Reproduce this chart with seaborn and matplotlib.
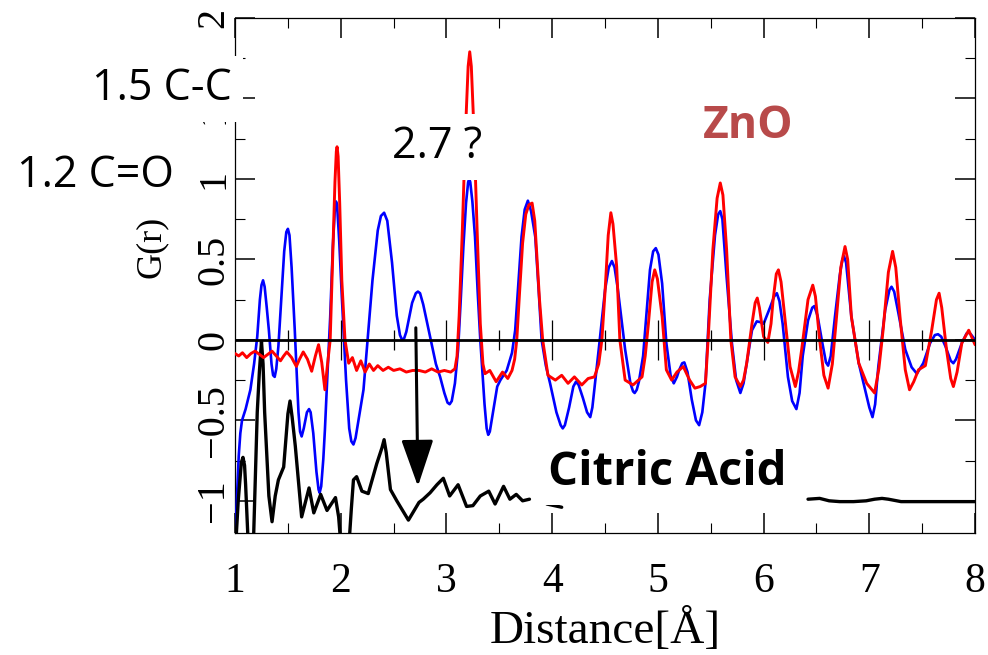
import numpy as np
import pandas as pd
import matplotlib
matplotlib.use("Agg")
import matplotlib.pyplot as plt
from matplotlib.ticker import MultipleLocator, FixedLocator, FixedFormatter
import seaborn as sns

# ---------------- data ----------------
blue_x = [1.00, 1.02, 1.035, 1.05, 1.066, 1.10, 1.145, 1.18, 1.21, 1.235, 1.25, 1.265, 1.28, 1.30,
          1.32, 1.345, 1.36, 1.375, 1.39, 1.41, 1.435, 1.465, 1.485, 1.50, 1.515, 1.535, 1.565, 1.60,
          1.615, 1.63, 1.65, 1.68, 1.70, 1.715, 1.74, 1.77, 1.79, 1.80, 1.815, 1.835, 1.85, 1.875,
          1.90, 1.925, 1.945, 1.955, 1.965, 1.985, 2.01, 2.05, 2.08, 2.10, 2.12, 2.14, 2.17, 2.215,
          2.26, 2.30, 2.35, 2.38, 2.41, 2.44, 2.485, 2.53, 2.56, 2.58, 2.60, 2.62, 2.675, 2.71,
          2.73, 2.75, 2.78, 2.845, 2.90, 2.94, 2.98, 3.01, 3.03, 3.05, 3.08, 3.11, 3.135, 3.16,
          3.185, 3.205, 3.215, 3.225, 3.245, 3.27, 3.295, 3.32, 3.36, 3.38, 3.395, 3.41, 3.44, 3.48,
          3.51, 3.57, 3.62, 3.65, 3.68, 3.71, 3.74, 3.77, 3.80, 3.84, 3.87, 3.90, 3.94, 3.98,
          4.04, 4.08, 4.10, 4.12, 4.16, 4.20, 4.225, 4.25, 4.29, 4.33, 4.36, 4.38, 4.40, 4.45,
          4.50, 4.535, 4.565, 4.59, 4.62, 4.64, 4.69, 4.74, 4.765, 4.78, 4.80, 4.82, 4.86, 4.89,
          4.925, 4.955, 4.98, 5.005, 5.04, 5.08, 5.12, 5.15, 5.18, 5.20, 5.23, 5.25, 5.28, 5.32,
          5.36, 5.39, 5.42, 5.45, 5.49, 5.54, 5.57, 5.59, 5.61, 5.65, 5.70, 5.74, 5.78, 5.81,
          5.84, 5.89, 5.935, 5.97, 6.00, 6.06, 6.10, 6.125, 6.15, 6.18, 6.23, 6.27, 6.31, 6.34,
          6.37, 6.42, 6.46, 6.48, 6.51, 6.55, 6.59, 6.61, 6.635, 6.675, 6.72, 6.745, 6.76, 6.78,
          6.83, 6.90, 6.96, 7.00, 7.03, 7.055, 7.085, 7.15, 7.19, 7.21, 7.235, 7.275, 7.34, 7.40,
          7.45, 7.51, 7.575, 7.62, 7.65, 7.68, 7.72, 7.77, 7.795, 7.82, 7.875, 7.92, 7.94, 7.96,
          8.00]
blue_y = [-1.25, -0.95, -0.72, -0.58, -0.50, -0.43, -0.31, -0.15, 0.02, 0.25, 0.34, 0.37, 0.33, 0.20,
          0.06, -0.15, -0.22, -0.23, -0.18, -0.04, 0.23, 0.55, 0.67, 0.69, 0.65, 0.45, 0.06, -0.45,
          -0.57, -0.60, -0.55, -0.45, -0.43, -0.45, -0.58, -0.82, -0.93, -0.95, -0.91, -0.74, -0.56, -0.20,
          0.14, 0.58, 0.82, 0.86, 0.84, 0.62, 0.27, -0.25, -0.55, -0.63, -0.65, -0.61, -0.49, -0.31,
          0.05, 0.37, 0.68, 0.77, 0.79, 0.74, 0.48, 0.15, 0.03, 0.00, 0.01, 0.05, 0.23, 0.29,
          0.30, 0.29, 0.22, 0.02, -0.15, -0.23, -0.33, -0.39, -0.40, -0.38, -0.27, -0.06, 0.25, 0.58,
          0.85, 0.98, 1.00, 0.98, 0.86, 0.64, 0.30, 0.00, -0.40, -0.55, -0.59, -0.57, -0.45, -0.29,
          -0.25, -0.19, -0.08, 0.06, 0.35, 0.64, 0.81, 0.865, 0.80, 0.64, 0.33, 0.00, -0.16, -0.27,
          -0.45, -0.53, -0.55, -0.53, -0.42, -0.29, -0.26, -0.28, -0.36, -0.45, -0.48, -0.42, -0.30, 0.00,
          0.31, 0.45, 0.49, 0.45, 0.32, 0.21, -0.06, -0.27, -0.32, -0.33, -0.31, -0.26, -0.10, 0.15,
          0.435, 0.55, 0.57, 0.53, 0.35, -0.02, -0.22, -0.27, -0.23, -0.19, -0.145, -0.14, -0.20, -0.37,
          -0.50, -0.53, -0.45, -0.27, 0.25, 0.65, 0.78, 0.80, 0.75, 0.39, -0.02, -0.25, -0.33, -0.27,
          -0.145, 0.06, 0.115, 0.11, 0.10, 0.20, 0.27, 0.29, 0.24, 0.10, -0.23, -0.38, -0.43, -0.33,
          -0.10, 0.12, 0.20, 0.21, 0.15, 0.00, -0.14, -0.16, -0.10, 0.145, 0.40, 0.50, 0.52, 0.48,
          0.145, -0.145, -0.31, -0.42, -0.48, -0.40, -0.166, 0.186, 0.31, 0.33, 0.30, 0.166, -0.06, -0.17,
          -0.21, -0.145, -0.02, 0.03, 0.035, 0.02, -0.04, -0.13, -0.145, -0.12, -0.02, 0.04, 0.045, 0.035,
          0.00]

red_x = [1.00, 1.035, 1.07, 1.11, 1.15, 1.19, 1.23, 1.27, 1.31, 1.35, 1.39, 1.43, 1.46, 1.49,
         1.535, 1.58, 1.61, 1.645, 1.685, 1.725, 1.76, 1.79, 1.82, 1.85, 1.875, 1.90, 1.925, 1.945,
         1.958, 1.965, 1.975, 1.99, 2.01, 2.04, 2.075, 2.11, 2.15, 2.19, 2.23, 2.27, 2.31, 2.35,
         2.40, 2.45, 2.50, 2.56, 2.62, 2.68, 2.74, 2.80, 2.86, 2.92, 2.98, 3.04, 3.08, 3.10,
         3.12, 3.15, 3.18, 3.205, 3.22, 3.235, 3.26, 3.29, 3.32, 3.345, 3.365, 3.41, 3.47, 3.53,
         3.58, 3.62, 3.645, 3.665, 3.69, 3.72, 3.75, 3.78, 3.81, 3.835, 3.855, 3.88, 3.91, 3.96,
         4.03, 4.09, 4.15, 4.21, 4.28, 4.34, 4.40, 4.44, 4.47, 4.50, 4.53, 4.555, 4.575, 4.61,
         4.64, 4.69, 4.765, 4.85, 4.88, 4.91, 4.945, 4.97, 4.995, 5.04, 5.08, 5.13, 5.18, 5.24,
         5.30, 5.35, 5.40, 5.45, 5.475, 5.52, 5.56, 5.59, 5.615, 5.65, 5.69, 5.73, 5.78, 5.81,
         5.84, 5.89, 5.92, 5.94, 5.96, 6.00, 6.04, 6.07, 6.09, 6.12, 6.14, 6.165, 6.20, 6.25,
         6.30, 6.33, 6.36, 6.42, 6.465, 6.49, 6.53, 6.57, 6.61, 6.65, 6.69, 6.73, 6.77, 6.795,
         6.83, 6.90, 6.975, 7.05, 7.09, 7.13, 7.18, 7.22, 7.25, 7.29, 7.34, 7.38, 7.42, 7.465,
         7.53, 7.59, 7.635, 7.66, 7.685, 7.73, 7.77, 7.795, 7.83, 7.875, 7.94, 8.00]
red_y = [-0.085, -0.10, -0.08, -0.11, -0.085, -0.07, -0.09, -0.11, -0.09, -0.07, -0.10, -0.13, -0.10, -0.075,
         -0.11, -0.165, -0.12, -0.075, -0.12, -0.195, -0.10, -0.03, -0.14, -0.31, -0.15, 0.00, 0.55, 0.98,
         1.17, 1.20, 1.14, 0.85, 0.37, 0.00, -0.145, -0.11, -0.19, -0.13, -0.20, -0.15, -0.19, -0.16,
         -0.19, -0.17, -0.19, -0.18, -0.20, -0.19, -0.19, -0.20, -0.18, -0.20, -0.19, -0.20, -0.18, -0.10,
         0.15, 0.68, 1.30, 1.70, 1.79, 1.70, 1.30, 0.68, 0.10, -0.15, -0.21, -0.19, -0.26, -0.20,
         -0.24, -0.19, -0.12, 0.00, 0.28, 0.60, 0.78, 0.84, 0.85, 0.74, 0.52, 0.25, 0.00, -0.22,
         -0.25, -0.22, -0.27, -0.23, -0.28, -0.24, -0.23, -0.15, 0.00, 0.30, 0.65, 0.79, 0.72, 0.455,
         0.00, -0.25, -0.28, -0.23, -0.10, 0.10, 0.36, 0.435, 0.38, 0.145, -0.186, -0.25, -0.20, -0.166,
         -0.25, -0.30, -0.29, -0.27, 0.00, 0.56, 0.88, 0.975, 0.90, 0.56, 0.00, -0.23, -0.29, -0.25,
         -0.145, 0.10, 0.23, 0.26, 0.20, 0.02, -0.016, 0.10, 0.25, 0.41, 0.435, 0.36, 0.145, -0.166,
         -0.29, -0.20, -0.06, 0.25, 0.34, 0.27, 0.00, -0.22, -0.30, -0.15, 0.145, 0.45, 0.58, 0.50,
         0.145, -0.145, -0.27, -0.33, -0.18, 0.06, 0.42, 0.55, 0.45, 0.145, -0.186, -0.31, -0.26, -0.186,
         -0.16, 0.06, 0.25, 0.29, 0.20, -0.06, -0.24, -0.29, -0.20, -0.02, 0.06, -0.03]

# citric acid trace: three visible pieces (the rest is hidden behind the label)
cit1_x = [1.00, 1.03, 1.06, 1.075, 1.09, 1.10, 1.13, 1.17, 1.21, 1.23, 1.25, 1.265, 1.28, 1.32,
          1.35, 1.38, 1.41, 1.46, 1.50, 1.52, 1.54, 1.57, 1.63, 1.70, 1.745, 1.81, 1.87, 1.95,
          1.98, 2.01, 2.07, 2.10, 2.12, 2.15, 2.20, 2.26, 2.34, 2.39, 2.41, 2.43, 2.47, 2.53,
          2.64, 2.74, 2.78, 2.845, 2.91, 2.97, 3.03, 3.11, 3.19, 3.25, 3.32, 3.40, 3.46, 3.54,
          3.60, 3.66, 3.72, 3.785]
cit1_y = [-1.35, -1.00, -0.76, -0.73, -0.78, -0.90, -1.35, -1.35, -0.45, -0.20, -0.01, -0.15, -0.45, -0.97,
          -1.13, -0.97, -0.87, -0.79, -0.46, -0.38, -0.48, -0.66, -1.10, -0.92, -1.075, -0.96, -1.06, -0.98,
          -1.10, -1.35, -1.35, -1.05, -0.87, -0.85, -0.94, -0.955, -0.77, -0.67, -0.62, -0.70, -0.93, -1.00,
          -1.12, -1.01, -0.99, -0.95, -0.90, -0.86, -0.97, -0.90, -1.035, -1.03, -0.97, -0.94, -1.02, -0.91,
          -0.99, -0.96, -1.00, -0.99]
cit2_x = [3.95, 4.09]
cit2_y = [-1.02, -1.04]
cit3_x = [6.42, 6.53, 6.62, 6.72, 6.85, 6.97, 7.05, 7.12, 7.18, 7.30, 7.60, 8.00]
cit3_y = [-0.99, -0.985, -1.00, -1.005, -1.005, -1.00, -0.99, -0.985, -0.99, -1.005, -1.005, -1.005]

xticks = [1, 2, 3, 4, 5, 6, 7, 8]
xtick_labels = ["1", "2", "3", "4", "5", "6", "7", "8"]
yticks = [-1, -0.5, 0, 0.5, 1, 1.5, 2]
ytick_labels = ["\u22121", "\u22120.5", "0", "0.5", "1", "1.5", "2"]
zero_major = [2, 3, 4, 5, 6, 7]
zero_minor = [1.5, 2.5, 3.5, 4.5, 5.5, 6.5, 7.5]

# ---------------- style ----------------
sns.set_style("ticks")
plt.rcParams["font.family"] = ["Liberation Serif", "DejaVu Serif"]
plt.rcParams["axes.unicode_minus"] = True
plt.rcParams["text.color"] = "black"
plt.rcParams["axes.labelcolor"] = "black"
plt.rcParams["xtick.color"] = "black"
plt.rcParams["ytick.color"] = "black"

fig = plt.figure(figsize=(9.88, 6.55), dpi=100)
ax = fig.add_axes([0.2379, 0.18626, 0.74899, 0.78626])

# ---------------- curves ----------------
sns.lineplot(x=blue_x, y=blue_y, ax=ax, color="#0000ff", linewidth=1.9,
             sort=False, estimator=None, zorder=3)
sns.lineplot(x=red_x, y=red_y, ax=ax, color="#ff0000", linewidth=2.1,
             sort=False, estimator=None, zorder=3.2)

cit = pd.DataFrame({
    "x": cit1_x + cit2_x + cit3_x,
    "y": cit1_y + cit2_y + cit3_y,
    "seg": [1] * len(cit1_x) + [2] * len(cit2_x) + [3] * len(cit3_x),
})
sns.lineplot(data=cit, x="x", y="y", units="seg", estimator=None, sort=False,
             color="black", linewidth=2.4, ax=ax, zorder=3)

# zero line with its own small crossing ticks
ax.axhline(0, color="black", lw=2.0, zorder=3.5)
ax.vlines(zero_major, -0.124, 0.124, color="black", lw=0.9, zorder=3.5)
ax.vlines(zero_minor, -0.062, 0.062, color="black", lw=0.9, zorder=3.5)

# ---------------- axes ----------------
ax.set_xlim(1, 8)
ax.set_ylim(-1.2, 2.0)
ax.xaxis.set_major_locator(FixedLocator(xticks))
ax.xaxis.set_major_formatter(FixedFormatter(xtick_labels))
ax.xaxis.set_minor_locator(MultipleLocator(0.5))
ax.yaxis.set_major_locator(FixedLocator(yticks))
ax.yaxis.set_major_formatter(FixedFormatter(ytick_labels))
ax.yaxis.set_minor_locator(MultipleLocator(0.25))

ax.tick_params(which="both", direction="in", top=True, right=True, colors="black")
ax.tick_params(which="major", length=14.4, width=1.1)
ax.tick_params(which="minor", length=7.2, width=0.8)
ax.tick_params(axis="x", which="major", labelsize=30, pad=21)
ax.tick_params(axis="y", which="major", labelsize=29, pad=2, labelrotation=90)
for t in ax.get_yticklabels():
    t.set_verticalalignment("center")

for s in ax.spines.values():
    s.set_linewidth(0.9)
    s.set_color("black")

ax.set_xlabel("Distance[\u00c5]", fontsize=34, color="black")
ax.xaxis.set_label_coords(0.5, -0.147)
ax.set_ylabel("G(r)", fontsize=26, color="black")
ax.yaxis.set_label_coords(-0.0905, 0.556)

# ---------------- annotations ----------------
sans = ["Open Sans", "DejaVu Sans"]
white = dict(boxstyle="square,pad=0.25", fc="white", ec="none")
ax.text(-0.3528, 1.49, "1.5 C-C", fontsize=31, family=sans, color="black",
        ha="left", va="baseline", bbox=white, zorder=10, clip_on=False)
ax.text(-1.062, 0.95, "1.2 C=O", fontsize=31, family=sans, color="black",
        ha="left", va="baseline", zorder=10, clip_on=False)
ax.text(2.485, 1.13, "2.7 ?", fontsize=31, family=sans, color="black",
        ha="left", va="baseline", bbox=white, zorder=10)
ax.text(5.427, 1.255, "ZnO", fontsize=32, family=sans, weight="bold", color="#b84a4a",
        ha="left", va="baseline", zorder=10)
ax.text(3.961, -0.90, "Citric Acid", fontsize=34, family=sans, weight="bold", color="black",
        ha="left", va="baseline", zorder=10,
        bbox=dict(boxstyle="square,pad=0.2", fc="white", ec="none"))

ax.annotate("", xy=(2.73, -0.91), xytext=(2.71, 0.075),
            arrowprops=dict(arrowstyle="-|>,head_length=1.45,head_width=0.5",
                            color="black", lw=2.2, mutation_scale=20,
                            shrinkA=0, shrinkB=0), zorder=6)

fig.savefig("out.png", dpi=100)
